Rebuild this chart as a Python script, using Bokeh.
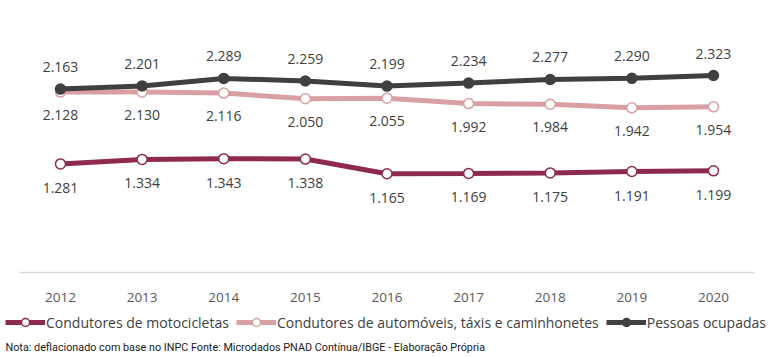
from bokeh.plotting import figure
from bokeh.models import ColumnDataSource, LabelSet, Legend, LegendItem, FixedTicker, Range1d, Label
from bokeh.core.properties import value
from bokeh.embed import file_html
from bokeh.resources import INLINE

years = [2012, 2013, 2014, 2015, 2016, 2017, 2018, 2019, 2020]
motos = [1281, 1334, 1343, 1338, 1165, 1169, 1175, 1191, 1199]
autos = [2128, 2130, 2116, 2050, 2055, 1992, 1984, 1942, 1954]
pessoas = [2163, 2201, 2289, 2259, 2199, 2234, 2277, 2290, 2323]
names = ["Condutores de motocicletas", "Condutores de automóveis, táxis e caminhonetes", "Pessoas ocupadas"]
note = "Nota: deflacionado com base no INPC Fonte: Microdados PNAD Contínua/IBGE - Elaboração Própria"

def fmt(v):
    return f"{v:,}".replace(",", ".")

FONT = "Open Sans"
W, H = 775, 357
p = figure(width=W, height=H, output_backend="svg", toolbar_location=None,
           x_range=Range1d(2011.265, 2020.760), y_range=Range1d(-1002, 3208),
           min_border_left=0, min_border_right=0, min_border_top=0, min_border_bottom=0)
p.outline_line_color = None
p.xgrid.visible = False
p.ygrid.visible = False
p.yaxis.visible = False
p.xaxis.fixed_location = 0
p.xaxis.bounds = (2011.5, 2020.5)
p.xaxis.ticker = FixedTicker(ticks=years)
p.xaxis.major_tick_line_color = None
p.xaxis.minor_tick_line_color = None
p.xaxis.axis_line_color = "#D9D9D9"
p.xaxis.axis_line_width = 1.5
p.xaxis.major_label_text_font = FONT
p.xaxis.major_label_text_font_size = "13.5px"
p.xaxis.major_label_text_color = "#595959"
p.xaxis.major_label_standoff = 14

series = [
    (motos, "#8E2A50", "white", 24),
    (autos, "#D9A0A4", "white", 23),
    (pessoas, "#404040", "#404040", -22),
]
items = []
for (vals, col, fill, off), name in zip(series, names):
    src = ColumnDataSource(dict(x=years, y=vals, t=[fmt(v) for v in vals]))
    r1 = p.line("x", "y", source=src, line_color=col, line_width=5)
    r2 = p.scatter("x", "y", source=src, size=10, fill_color=fill, line_color=col, line_width=1.5)
    lab = LabelSet(x="x", y="y", text="t", source=src, y_offset=-off, text_align="center",
                   text_baseline="middle", text_font=value(FONT), text_font_size="14px",
                   text_color="#404040")
    p.add_layout(lab)
    items.append(LegendItem(label=name, renderers=[r1, r2]))

legend = Legend(items=items, orientation="horizontal", location=(5, 25),
                label_text_font=FONT, label_text_font_size="14px", label_text_color="#404040",
                glyph_width=40, glyph_height=20, label_standoff=1, spacing=7, padding=0, margin=0,
                background_fill_alpha=0, border_line_color=None)
p.add_layout(legend, "center")
lbl = Label(x=5, y=10, x_units="screen", y_units="screen", text=note, text_font="Roboto",
            text_font_size="10.8px", text_color="#1A1A1A", text_baseline="middle")
p.add_layout(lbl)

open("out.html", "w").write(file_html(p, INLINE))
